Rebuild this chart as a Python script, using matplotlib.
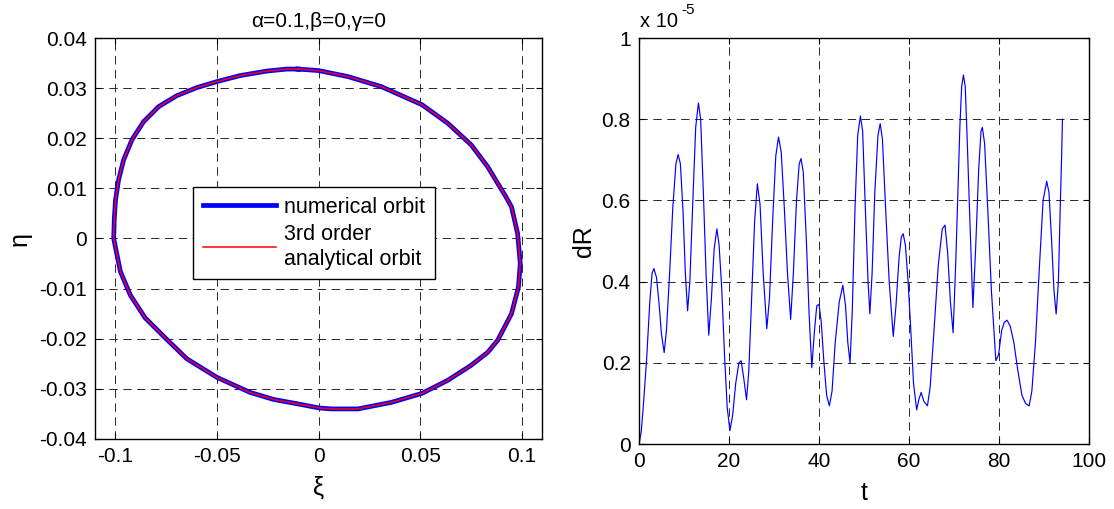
import numpy as np
import matplotlib
matplotlib.use('Agg')
import matplotlib.pyplot as plt
from matplotlib.ticker import FuncFormatter

plt.rcParams['font.family'] = ['Liberation Sans', 'DejaVu Sans']
plt.rcParams['mathtext.default'] = 'regular'
plt.rcParams['lines.scale_dashes'] = False

# orbit (xi, eta), clockwise from the top
xi = [-0.0101, 0.0001, 0.0145, 0.0309, 0.0509, 0.0636, 0.0751, 0.0833, 0.0882, 0.0920,
      0.0950, 0.0980, 0.0993, 0.0984, 0.0950, 0.0882, 0.0833, 0.0751, 0.0636, 0.0509,
      0.0358, 0.0194, 0.0063, 0.0001, -0.0101, -0.0222, -0.0337, -0.0500, -0.0648, -0.0750,
      -0.0854, -0.0926, -0.0975, -0.1008, -0.1005, -0.0999, -0.0984, -0.0959, -0.0918, -0.0861,
      -0.0787, -0.0697, -0.0599, -0.0500, -0.0386, -0.0255, -0.0156, -0.0101]
eta = [0.0338, 0.0335, 0.0323, 0.0303, 0.0267, 0.0230, 0.0187, 0.0143, 0.0110, 0.0085,
       0.0063, 0.0010, -0.0050, -0.0097, -0.0150, -0.0203, -0.0227, -0.0253, -0.0283, -0.0309,
       -0.0327, -0.0340, -0.0340, -0.0338, -0.0330, -0.0321, -0.0307, -0.0277, -0.0240, -0.0200,
       -0.0158, -0.0113, -0.0066, 0.0000, 0.0040, 0.0077, 0.0117, 0.0157, 0.0197, 0.0233,
       0.0263, 0.0285, 0.0301, 0.0313, 0.0325, 0.0334, 0.0338, 0.0338]

# dR(t), values in units of 1e-5
t = [0.0, 0.5, 1.0, 1.7, 2.4, 2.9, 3.3, 3.9, 4.5, 5.0, 5.6, 6.1, 6.8, 7.5, 8.2, 8.7,
     9.2, 9.8, 10.3, 10.8, 11.3, 11.9, 12.6, 13.2, 13.7, 14.3, 14.9, 15.5, 16.1, 16.7,
     17.3, 17.8, 18.4, 19.0, 19.6, 20.2, 20.8, 21.5, 22.2, 22.7, 23.3, 23.9, 24.4, 25.0,
     25.7, 26.3, 26.9, 27.6, 28.4, 29.0, 29.7, 30.4, 31.0, 31.6, 32.3, 33.0, 33.7, 34.3,
     35.0, 35.6, 36.0, 36.5, 37.2, 37.8, 38.4, 39.0, 39.5, 40.0, 40.5, 41.1, 41.7, 42.3,
     42.9, 43.6, 44.5, 45.3, 45.9, 46.4, 46.9, 47.4, 48.0, 48.6, 49.2, 49.7, 50.3, 50.9,
     51.3, 51.8, 52.4, 53.1, 53.6, 54.1, 54.8, 55.6, 56.5, 57.1, 57.8, 58.3, 58.7, 59.2,
     59.8, 60.4, 61.0, 61.7, 62.2, 62.7, 63.3, 64.1, 64.7, 65.5, 66.5, 67.4, 68.0, 68.6,
     69.2, 69.8, 70.4, 70.8, 71.3, 71.7, 72.1, 72.5, 72.9, 73.5, 74.2, 74.8, 75.5, 76.0,
     76.3, 76.8, 77.5, 78.3, 79.3, 79.9, 80.6, 81.2, 81.8, 82.5, 83.3, 84.2, 85.1, 85.9,
     86.7, 87.3, 88.1, 89.0, 89.8, 90.6, 91.1, 91.7, 92.2, 92.7, 93.2, 93.6, 93.9, 94.1]
dR = [0.0, 0.03, 0.10, 0.21, 0.35, 0.42, 0.432, 0.41, 0.34, 0.27, 0.225, 0.28, 0.42, 0.58, 0.69, 0.713,
      0.69, 0.57, 0.42, 0.328, 0.40, 0.58, 0.78, 0.84, 0.80, 0.62, 0.42, 0.268, 0.36, 0.48,
      0.53, 0.49, 0.38, 0.22, 0.09, 0.033, 0.07, 0.15, 0.20, 0.205, 0.16, 0.109, 0.18, 0.35,
      0.55, 0.641, 0.59, 0.42, 0.284, 0.36, 0.55, 0.71, 0.756, 0.72, 0.58, 0.42, 0.307, 0.42,
      0.60, 0.69, 0.703, 0.67, 0.50, 0.32, 0.188, 0.28, 0.34, 0.344, 0.30, 0.20, 0.12, 0.094,
      0.13, 0.25, 0.35, 0.391, 0.34, 0.25, 0.20, 0.33, 0.58, 0.76, 0.808, 0.77, 0.58, 0.40,
      0.321, 0.42, 0.62, 0.76, 0.789, 0.75, 0.58, 0.40, 0.265, 0.34, 0.46, 0.51, 0.518, 0.49,
      0.40, 0.28, 0.15, 0.084, 0.11, 0.127, 0.105, 0.094, 0.14, 0.27, 0.44, 0.53, 0.539, 0.47,
      0.35, 0.274, 0.45, 0.60, 0.78, 0.88, 0.909, 0.88, 0.76, 0.56, 0.336, 0.48, 0.68, 0.77,
      0.78, 0.74, 0.58, 0.38, 0.205, 0.22, 0.28, 0.30, 0.305, 0.29, 0.25, 0.18, 0.12, 0.10,
      0.094, 0.13, 0.25, 0.44, 0.60, 0.647, 0.62, 0.50, 0.38, 0.32, 0.40, 0.58, 0.70, 0.80]
scale = 1e-5

W, H = 1114, 509
fig = plt.figure(figsize=(W / 100, H / 100), dpi=100)
grid_kw = dict(color='0.15', linestyle=(0, (6, 4)), linewidth=0.7)

# left panel
ax1 = fig.add_axes([95 / W, (H - 439) / H, 447 / W, 401 / H])
ax1.plot(xi, eta, color='#0000ff', lw=3.4, solid_joinstyle='round', label='numerical orbit')
ax1.plot(xi, eta, color='#ff0000', lw=1.1, solid_joinstyle='round',
         label='3rd order\nanalytical orbit')
ax1.set_xlim(-0.11, 0.11)
ax1.set_ylim(-0.04, 0.04)
ax1.set_xticks([-0.1, -0.05, 0, 0.05, 0.1])
ax1.set_yticks(np.arange(-0.04, 0.0401, 0.01))
ax1.xaxis.set_major_formatter(FuncFormatter(lambda v, p: '%g' % round(v, 4)))
ax1.yaxis.set_major_formatter(FuncFormatter(lambda v, p: '%g' % round(v, 4)))
ax1.grid(True, **grid_kw)
ax1.set_xlabel('ξ', fontsize=18, labelpad=7)
ax1.set_ylabel('η', fontsize=18, labelpad=5)
ax1.set_title('α=0.1,β=0,γ=0', fontsize=15, pad=8)
leg = ax1.legend(loc='upper left', bbox_to_anchor=(0.219, 0.628), fontsize=15.5,
                 frameon=True, fancybox=False, framealpha=1, edgecolor='black',
                 handlelength=3.4, borderpad=0.45, labelspacing=0.3, handletextpad=0.4,
                 borderaxespad=0)
leg.get_frame().set_linewidth(1.0)

# right panel
ax2 = fig.add_axes([639 / W, (H - 444) / H, 450 / W, 406 / H])
ax2.plot(t, np.array(dR) * scale, color='#0000ff', lw=0.85)
ax2.set_xlim(0, 100)
ax2.set_ylim(0, 1 * scale)
ax2.set_xticks(np.arange(0, 101, 20))
ax2.set_yticks(np.arange(0, 1.01, 0.2) * scale)
ax2.yaxis.set_major_formatter(FuncFormatter(lambda v, p: '%g' % round(v / scale, 3)))
ax2.grid(True, **grid_kw)
ax2.set_xlabel('t', fontsize=18, labelpad=7)
ax2.set_ylabel('dR', fontsize=18, labelpad=4)
ax2.text(0.002, 1 + 11 / 406, 'x 10', transform=ax2.transAxes, fontsize=14.5,
         va='baseline', ha='left')
ax2.text(0.095, 1 + 35 / 406, '-5', transform=ax2.transAxes, fontsize=11,
         va='top', ha='left')

for ax in (ax1, ax2):
    ax.tick_params(direction='in', length=4, width=0.8, labelsize=15,
                   top=True, right=True, pad=6)
    for s in ax.spines.values():
        s.set_linewidth(1.0)

fig.savefig('out.png', dpi=100)
